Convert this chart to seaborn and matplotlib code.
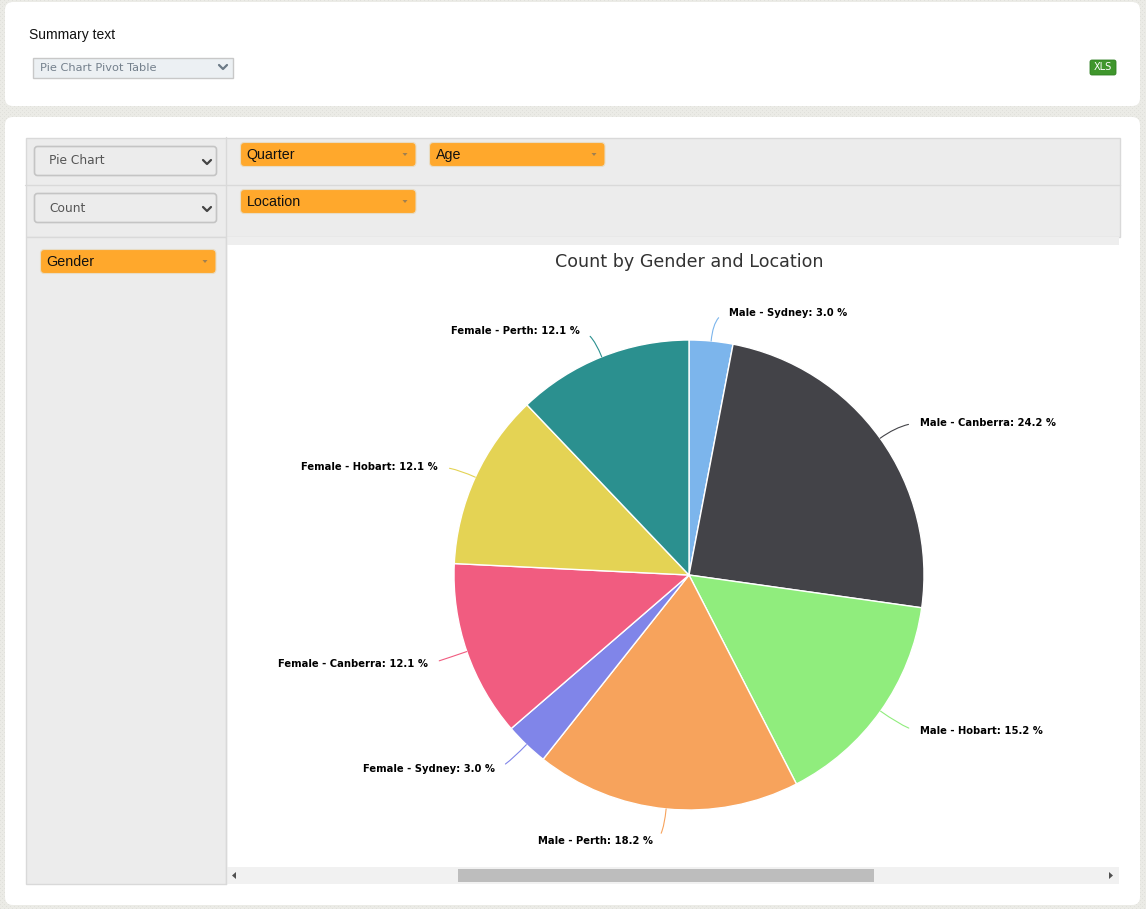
"""
Pie chart pivot table screen
"""
import numpy as np
import matplotlib
matplotlib.use("Agg")
import matplotlib.pyplot as plt
from matplotlib.patches import FancyBboxPatch, Rectangle, Polygon
import seaborn as sns

# Data
genders = ["Male", "Male", "Male", "Male", "Female", "Female", "Female", "Female"]
locations = ["Sydney", "Canberra", "Hobart", "Perth", "Sydney", "Canberra", "Hobart", "Perth"]
shares = [3.0, 24.2, 15.2, 18.2, 3.0, 12.1, 12.1, 12.1]
slice_colors = ["#7cb5ec", "#434348", "#90ed7d", "#f7a35c", "#8085e9", "#f15c80", "#e4d354", "#2b908f"]

# Where each label sits on the screen, in pixels
label_x = [729, 920, 920, 653, 495, 428, 438, 580]
label_y = [313, 423, 731, 841, 769, 664, 467, 331]
label_ha = ["left", "left", "left", "right", "right", "right", "right", "right"]

W, H = 1146, 909
PILL = "#ffa82c"
GRID = "#ececec"
LINE = "#d9d9d9"

sns.set_theme(style="white")
plt.rcParams["font.family"] = ["Liberation Sans", "DejaVu Sans"]

fig = plt.figure(figsize=(W / 100, H / 100), dpi=100)
bg = fig.add_axes([0, 0, 1, 1])
bg.set_xlim(0, W)
bg.set_ylim(H, 0)
bg.axis("off")


def box(x0, y0, x1, y1, fc, ec="none", r=0, lw=1.0, z=2):
    if r:
        p = FancyBboxPatch((x0 + r, y0 + r), x1 - x0 - 2 * r, y1 - y0 - 2 * r,
                           boxstyle=f"round,pad={r},rounding_size={r}",
                           fc=fc, ec=ec, lw=lw, zorder=z)
    else:
        p = Rectangle((x0, y0), x1 - x0, y1 - y0, fc=fc, ec=ec, lw=lw, zorder=z)
    bg.add_patch(p)


def chevron(cx, cy, color="#444444", size=4):
    bg.plot([cx - size, cx, cx + size], [cy - size / 2, cy + size / 2, cy - size / 2],
            color=color, lw=1.6, zorder=4, solid_capstyle="round")


def pill(x0, y0, x1, y1, text):
    box(x0, y0, x1, y1, PILL, ec="#e8dcc4", r=4, lw=0.8, z=3)
    bg.text(x0 + 6, (y0 + y1) / 2, text, fontsize=10.3, color="#111111", va="center", zorder=4)
    cx, cy = x1 - 11, (y0 + y1) / 2
    bg.add_patch(Polygon([[cx - 2.5, cy - 1.5], [cx + 2.5, cy - 1.5], [cx, cy + 1.5]],
                         fc="#a08050", ec="none", zorder=4))


# Textured page background
page = np.full((H, W, 3), 0.925)
page[::4, ::4] = 0.88
page[2::4, 2::4] = 0.88
page[..., 2] -= 0.02
bg.imshow(page, extent=[0, W, H, 0], aspect="auto", zorder=0, interpolation="nearest")
bg.set_xlim(0, W)
bg.set_ylim(H, 0)

# Panels
box(5, 2, 1140, 106, "white", r=8, z=1)
box(5, 117, 1140, 905, "white", r=8, z=1)

# Top panel
bg.text(29, 35, "Summary text", fontsize=10, color="#111111", va="center", zorder=4)
box(33, 57.5, 233, 77.5, "#ecf0f3", ec="#c8c8c8", lw=1)
bg.text(40, 68, "Pie Chart Pivot Table", fontsize=8.2, color="#74808c", va="center",
        family="DejaVu Sans", zorder=4)
chevron(223, 67, color="#6c7a86")
box(1090, 60, 1116, 75, "#3f962c", ec="#2f7f22", r=2, lw=0.6)
bg.text(1103, 67.5, "XLS", fontsize=7, color="white", ha="center", va="center",
        family="DejaVu Sans", zorder=4)

# Pivot table frame
box(25.5, 137.5, 1119.5, 236.5, GRID, ec=LINE)
box(25.5, 236.5, 225.5, 884, GRID, ec=LINE)
bg.plot([25, 1120], [184.5, 184.5], color=LINE, lw=1, zorder=3)
bg.plot([225.5, 225.5], [137, 884], color=LINE, lw=1, zorder=3)
box(226, 237, 1119, 245, "#eeeeee")

# Selects
for y0, y1, name in [(146, 176, "Pie Chart"), (193, 223, "Count")]:
    box(34.5, y0 + 0.5, 216.5, y1 - 0.5, GRID, ec="#c4c4c4", r=3, lw=1.2, z=3)
    bg.text(49, (y0 + y1) / 2, name, fontsize=8.8, color="#555555", va="center",
            family="DejaVu Sans", zorder=4)
    chevron(207, (y0 + y1) / 2 + 1)

pill(240.5, 142.5, 416, 166.5, "Quarter")
pill(429.5, 142.5, 605, 166.5, "Age")
pill(240.5, 189.5, 416, 213.5, "Location")
pill(40.5, 249.5, 216, 273.5, "Gender")

# Scrollbar
box(226, 867, 1119, 884, "#f1f1f1")
box(458, 869, 874, 882, "#bdbdbd")
bg.add_patch(Polygon([[232, 875.5], [236, 872], [236, 879]], fc="#505050", ec="none", zorder=4))
bg.add_patch(Polygon([[1113, 875.5], [1109, 872], [1109, 879]], fc="#505050", ec="none", zorder=4))

# Title
bg.text(689, 262, "Count by Gender and Location", fontsize=12.6, color="#333333",
        ha="center", va="center", family="DejaVu Sans", zorder=4)

# Pie
cx, cy, radius = 689, 575, 235
ax = fig.add_axes([(cx - radius) / W, 1 - (cy + radius) / H, 2 * radius / W, 2 * radius / H])
palette = sns.color_palette(slice_colors)
wedges, _ = ax.pie(shares, colors=palette, startangle=90, counterclock=False, radius=1,
                   wedgeprops=dict(edgecolor="white", linewidth=1))
ax.set_xlim(-1, 1)
ax.set_ylim(-1, 1)
ax.patch.set_alpha(0)

for i, wedge in enumerate(wedges):
    mid = (wedge.theta1 + wedge.theta2) / 2
    xy = (np.cos(np.radians(mid)), np.sin(np.radians(mid)))
    left = label_ha[i] == "left"
    ax.annotate(f"{genders[i]} - {locations[i]}: {shares[i]:.1f} %", xy=xy, xycoords="data",
                xytext=(label_x[i], label_y[i]), textcoords=bg.transData,
                ha=label_ha[i], va="center", fontsize=7.2, fontweight="bold", color="black",
                family="DejaVu Sans", annotation_clip=False,
                arrowprops=dict(arrowstyle="-", color=slice_colors[i], lw=0.8,
                                relpos=(0 if left else 1, 0.5), shrinkA=6, shrinkB=0,
                                connectionstyle=f"angle3,angleA=0,angleB={mid:.1f}"))

plt.savefig("out.png", dpi=100)
plt.close()
